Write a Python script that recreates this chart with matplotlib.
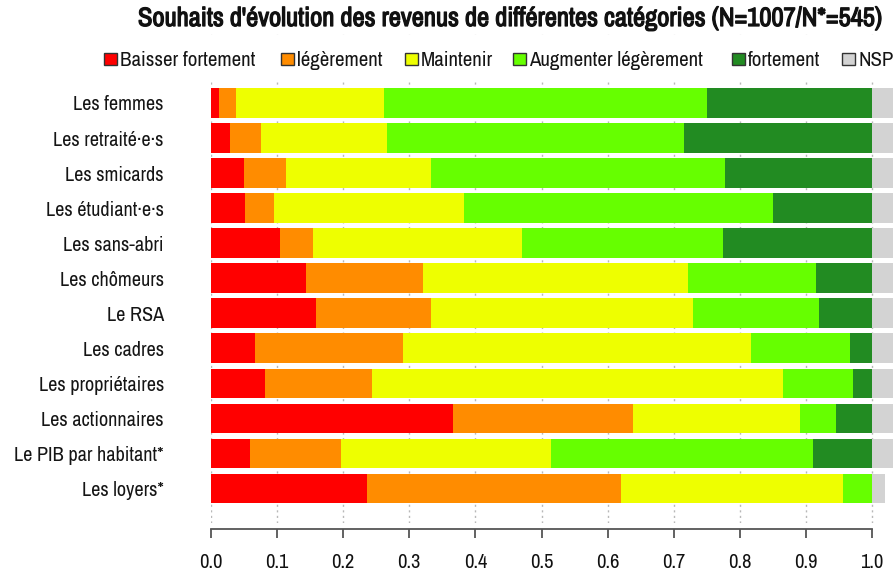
import matplotlib
matplotlib.use("Agg")
import matplotlib.pyplot as plt
import matplotlib.patheffects as pe
from matplotlib.patches import Rectangle
import numpy as np

FONT = ['Archivo Narrow', 'Liberation Sans', 'DejaVu Sans']
plt.rcParams['font.family'] = FONT

categories = ["Les femmes", "Les retraité·e·s", "Les smicards", "Les étudiant·e·s",
              "Les sans-abri", "Les chômeurs", "Le RSA", "Les cadres",
              "Les propriétaires", "Les actionnaires", "Le PIB par habitant*", "Les loyers*"]

series_names = ["Baisser fortement", "légèrement", "Maintenir",
                "Augmenter légèrement", "fortement", "NSP"]
colors = ["#FF0000", "#FF8C00", "#EEFF00", "#66FF00", "#228B22", "#D3D3D3"]

baisser_fortement = [0.012, 0.029, 0.050, 0.051, 0.105, 0.143, 0.159, 0.066, 0.081, 0.366, 0.059, 0.236]
baisser_legerement = [0.026, 0.047, 0.063, 0.044, 0.049, 0.178, 0.174, 0.224, 0.162, 0.272, 0.138, 0.384]
maintenir = [0.224, 0.191, 0.220, 0.287, 0.316, 0.401, 0.396, 0.527, 0.623, 0.253, 0.317, 0.336]
augmenter_legerement = [0.488, 0.449, 0.445, 0.468, 0.305, 0.193, 0.191, 0.150, 0.106, 0.055, 0.396, 0.044]
augmenter_fortement = [0.250, 0.284, 0.222, 0.150, 0.225, 0.085, 0.080, 0.033, 0.028, 0.054, 0.090, 0.000]
nsp = [0.05, 0.05, 0.05, 0.05, 0.05, 0.05, 0.05, 0.05, 0.05, 0.05, 0.05, 0.019]

xticks = [0.0, 0.1, 0.2, 0.3, 0.4, 0.5, 0.6, 0.7, 0.8, 0.9, 1.0]
title = "Souhaits d'évolution des revenus de différentes catégories (N=1007/N*=545)"

W, H = 893, 575
fig = plt.figure(figsize=(W / 100, H / 100), dpi=100)
renderer = fig.canvas.get_renderer()


def fit_size(text, target_px, weight="normal"):
    t = fig.text(0, 0, text, fontsize=10, fontweight=weight)
    w = t.get_window_extent(renderer).width
    t.remove()
    return 10.0 * target_px / w


fs_label = fit_size("Les femmes", 91)
fs_leg = fit_size("Baisser fortement", 136)
fs_tick = fit_size("0.0", 23)
fs_title = fit_size(title, 746, "bold")

# axes in pixel coordinates
x0_px, x1_px = 211, 872
ax_left, ax_right = 211, 893
ax_top, ax_bottom = 34, 523
ax = fig.add_axes([ax_left / W, 1 - ax_bottom / H, (ax_right - ax_left) / W, (ax_bottom - ax_top) / H])

row0_px, rowstep = 103.0, 35.05
ylim_top = -(row0_px - ax_top) / rowstep
ylim_bot = 11 + (ax_bottom - (row0_px + 11 * rowstep)) / rowstep
ax.set_ylim(ylim_bot, ylim_top)
ax.set_xlim(0, (ax_right - x0_px) / (x1_px - x0_px))

for t in xticks:
    ax.axvline(t, color="#b8b8b8", lw=1, linestyle=(0, (1.5, 2.5)), zorder=0)

ypos = np.arange(len(categories))
all_series = [baisser_fortement, baisser_legerement, maintenir,
              augmenter_legerement, augmenter_fortement, nsp]
left = np.zeros(len(categories))
for vals, col in zip(all_series, colors):
    vals = np.array(vals)
    ax.barh(ypos, vals, left=left, height=0.85, color=col, edgecolor="none", zorder=2)
    left += vals

ax.set_yticks(ypos)
ax.set_yticklabels(categories)
ax.tick_params(axis="y", length=0, pad=34, labelsize=fs_label, labelcolor="#151515")
ax.set_xticks(xticks)
ax.set_xticklabels([f"{t:.1f}" for t in xticks])
ax.tick_params(axis="x", length=6.5, width=1.3, color="#555555", pad=10.5,
               labelsize=fs_tick, labelcolor="#111111")
for s in ["top", "right", "left"]:
    ax.spines[s].set_visible(False)
ax.spines["bottom"].set_bounds(0, 1)
ax.spines["bottom"].set_position(("outward", 4.3))
ax.spines["bottom"].set_color("#555555")
ax.spines["bottom"].set_linewidth(1.3)

# white legend background covering gridlines
fig.patches.append(Rectangle((95 / W, 1 - 80 / H), (W - 95) / W, 43 / H,
                             transform=fig.transFigure, facecolor="white",
                             edgecolor="none", zorder=1))

# legend entries
leg_sq_x = [104, 281, 405, 513, 732, 842]
sq = 12.5
for name, col, sx in zip(series_names, colors, leg_sq_x):
    fig.patches.append(Rectangle((sx / W, 1 - 65.3 / H), sq / W, sq / H,
                                 transform=fig.transFigure, facecolor=col,
                                 edgecolor="#333333", lw=1, zorder=3))
    fig.text((sx + sq + 3.5) / W, 1 - 66 / H, name, fontsize=fs_leg, va="baseline",
             ha="left", color="#151515", zorder=4)

fig.text(510 / W, 1 - 26 / H, title,
         fontsize=fs_title, fontweight="bold", ha="center", va="baseline", color="#111111",
         path_effects=[pe.withStroke(linewidth=0.9, foreground="#111111")])

fig.savefig("out.png", dpi=100)
